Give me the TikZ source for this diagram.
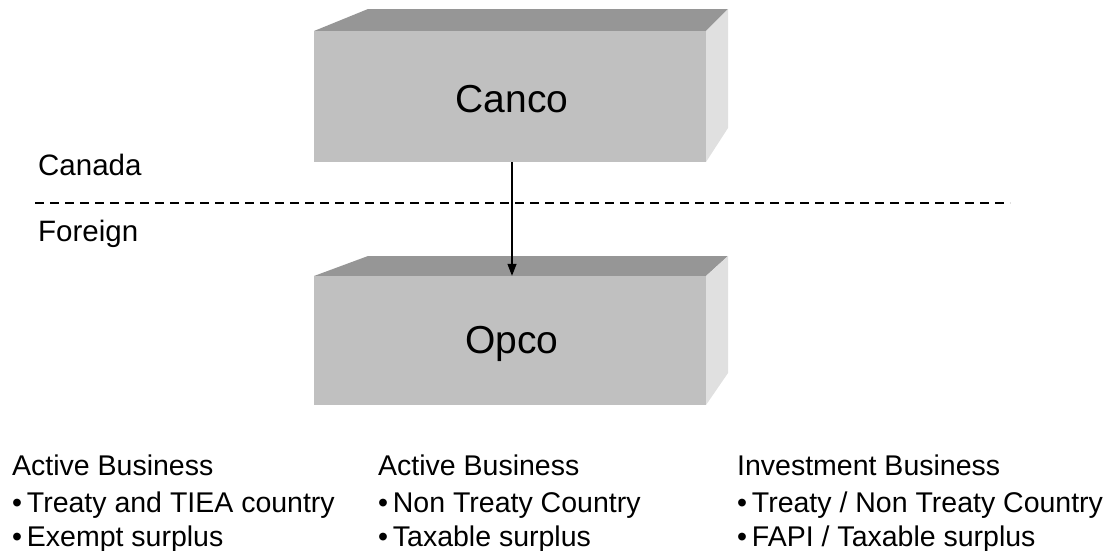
\documentclass[tikz,border=0pt]{standalone}
\usepackage{fontspec}
\setmainfont{Liberation Sans}
\usetikzlibrary{arrows.meta}
\definecolor{frontgray}{HTML}{C0C0C0}
\definecolor{topgray}{HTML}{969696}
\definecolor{sidegray}{HTML}{E0E0E0}
\begin{document}
\begin{tikzpicture}[x=1pt,y=-1pt,
  boxfront/.style={fill=frontgray, draw=none, inner sep=0pt, minimum width=392pt, font=\fontsize{39}{44}\selectfont},
  lbl/.style={anchor=base west, inner sep=0pt, font=\fontsize{29.5}{32}\selectfont},
  item/.style={anchor=base west, inner sep=0pt, font=\fontsize{28.5}{30}\selectfont},
  link/.style={-{Triangle[length=12pt,width=9pt]}, line width=1.2pt}]
\useasboundingbox (0,0) rectangle (1113,550);
% Canco block
\fill[topgray] (314,31) -- (368,9) -- (728,9) -- (706,31) -- cycle;
\fill[sidegray] (706,31) -- (728,9) -- (728,128) -- (706,162) -- cycle;
\node[boxfront, minimum height=131pt] (canco) at (510,96.5) {};
\node[font=\fontsize{39}{44}\selectfont, inner sep=0pt] (cancot) at (512,99) {Canco};
% Opco block
\fill[topgray] (314,276) -- (368,256) -- (728,256) -- (706,276) -- cycle;
\fill[sidegray] (706,276) -- (728,256) -- (728,373) -- (706,405) -- cycle;
\node[boxfront, minimum height=129pt] (opco) at (510,340.5) {};
\node[font=\fontsize{39}{44}\selectfont, inner sep=0pt] (opcot) at (512,344) {Opco};
% arrow
\draw[link] (canco.south -| 512,0) -- (opco.north -| 512,0);
% border line
\coordinate (dl) at (35,203);
\coordinate (dr) at (1010,203);
\draw[line width=1.2pt, dash pattern=on 9pt off 6pt] (dl) -- (dr);
\node[lbl] (canada) at (38,175) {Canada};
\node[lbl] (foreign) at (38,241) {Foreign};
% bottom text
\node[item] (a1) at (12,475) {Active Business};
\node[item] (a2) at (12,512) {\textbullet\,Treaty and TIEA country};
\node[item] (a3) at (12,546) {\textbullet\,Exempt surplus};
\node[item] (b1) at (378,475) {Active Business};
\node[item] (b2) at (378,512) {\textbullet\,Non Treaty Country};
\node[item] (b3) at (378,546) {\textbullet\,Taxable surplus};
\node[item] (c1) at (737,475) {Investment Business};
\node[item] (c2) at (737,512) {\textbullet\,Treaty / Non Treaty Country};
\node[item] (c3) at (737,546) {\textbullet\,FAPI / Taxable surplus};
\end{tikzpicture}
\end{document}
